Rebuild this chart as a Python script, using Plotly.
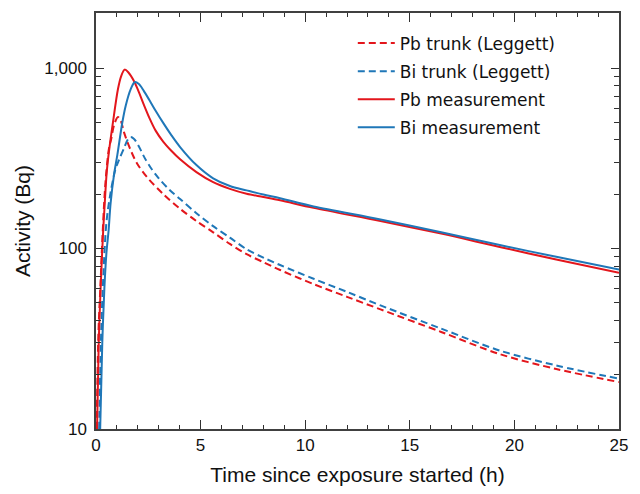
import plotly.graph_objects as go

# ---- data ----
pb_trunk_t = [0.03, 0.12, 0.22, 0.30, 0.45, 0.62, 0.73, 0.86, 1.05, 1.20, 1.34, 1.66, 1.97, 2.42, 3.22, 4.02, 4.8, 5.6, 6.4, 7.2, 8.0, 8.8, 10.4, 12.0, 13.6, 16.5, 19.3, 22.0, 25.0]
pb_trunk_v = [10, 35, 65, 110, 230, 359, 406, 481, 535, 505, 440, 350, 295, 250, 200, 166, 142, 123, 106, 93, 84, 76, 63.5, 54, 46, 34.5, 26, 21.5, 18.2]

bi_trunk_t = [0.15, 0.25, 0.35, 0.50, 0.70, 0.93, 1.10, 1.34, 1.50, 1.65, 1.82, 2.05, 2.30, 2.60, 3.0, 3.5, 4.02, 4.8, 5.6, 6.4, 7.2, 8.0, 8.8, 10.4, 12.0, 13.6, 16.5, 19.3, 22.0, 25.0]
bi_trunk_v = [10, 35, 70, 140, 205, 275, 310, 360, 398, 415, 405, 368, 322, 282, 245, 212, 188, 157, 133, 115, 99, 89, 81, 68, 57.5, 48.4, 36, 27.2, 22.5, 19]

pb_meas_t = [0.05, 0.13, 0.22, 0.33, 0.42, 0.51, 0.62, 0.81, 1.05, 1.20, 1.37, 1.55, 1.82, 2.05, 2.29, 2.55, 2.85, 3.22, 3.6, 4.02, 4.8, 5.6, 6.4, 7.2, 8.0, 8.8, 10.4, 13.6, 16.5, 19.3, 22.0, 25.0]
pb_meas_v = [10, 30, 60, 117, 180, 262, 345, 500, 765, 900, 980, 945, 845, 735, 625, 530, 450, 390, 348, 312, 265, 233, 214, 201, 193, 185, 168, 142, 121, 102, 87, 73.5]

bi_meas_t = [0.20, 0.30, 0.40, 0.50, 0.60, 0.70, 0.86, 1.02, 1.26, 1.42, 1.66, 1.85, 2.05, 2.29, 2.55, 2.85, 3.22, 3.6, 4.02, 4.8, 5.6, 6.4, 7.2, 8.0, 8.8, 10.4, 13.6, 16.5, 19.3, 22.0, 25.0]
bi_meas_v = [10, 30, 60, 95, 125, 179, 256, 330, 501, 619, 764, 835, 815, 745, 665, 580, 495, 425, 365, 290, 245, 222, 210, 199, 190, 171, 145, 123, 104.5, 90, 76.6]

y_tick_vals = [10, 100, 1000]
y_tick_text = ["10", "100", "1,000"]
y_minor_vals = [20, 30, 40, 50, 60, 70, 80, 90, 200, 300, 400, 500, 600, 700, 800, 900, 2000]

RED = "#e3161c"
BLUE = "#1f77b8"
DASH = "7px,4px"
SM = 0.9

fig = go.Figure()
fig.add_trace(go.Scatter(x=pb_trunk_t, y=pb_trunk_v, mode="lines", name="Pb trunk (Leggett)", legendgroup="a",
                         line=dict(color=RED, width=2, dash=DASH, shape="spline", smoothing=SM)))
fig.add_trace(go.Scatter(x=bi_trunk_t, y=bi_trunk_v, mode="lines", name="Bi trunk (Leggett)", legendgroup="b",
                         line=dict(color=BLUE, width=2, dash=DASH, shape="spline", smoothing=SM)))
fig.add_trace(go.Scatter(x=pb_meas_t, y=pb_meas_v, mode="lines", name="Pb measurement", legendgroup="c",
                         line=dict(color=RED, width=2, shape="spline", smoothing=SM)))
fig.add_trace(go.Scatter(x=bi_meas_t, y=bi_meas_v, mode="lines", name="Bi measurement", legendgroup="d",
                         line=dict(color=BLUE, width=2, shape="spline", smoothing=SM)))

axis_common = dict(showline=True, linecolor="#404040", linewidth=1.5, mirror="ticks",
                   ticks="inside", tickcolor="#303030", tickwidth=1.3, showgrid=False, zeroline=False,
                   tickfont=dict(family="Liberation Sans, Arial", size=17, color="#111111"))

fig.update_xaxes(range=[0, 25], dtick=5, tick0=0, ticklen=9,
                 minor=dict(ticks="inside", dtick=1, ticklen=4, tickcolor="#303030", tickwidth=1.2),
                 title=dict(text="Time since exposure started (h)", standoff=13,
                            font=dict(family="Liberation Sans, Arial", size=21, color="#111111")),
                 **axis_common)
fig.update_yaxes(type="log", range=[1, 3.305], tickvals=y_tick_vals, ticktext=y_tick_text, ticklen=8,
                 ticklabelstandoff=4,
                 minor=dict(ticks="inside", tickvals=y_minor_vals, ticklen=5, tickcolor="#303030", tickwidth=1.2),
                 title=dict(text="Activity (Bq)", standoff=8,
                            font=dict(family="Liberation Sans, Arial", size=21, color="#111111")),
                 **axis_common)

fig.update_layout(width=640, height=494, paper_bgcolor="white", plot_bgcolor="white",
                  margin=dict(l=96, r=21, t=11, b=62),
                  legend=dict(x=0.491, y=0.97, xanchor="left", yanchor="top", bgcolor="rgba(0,0,0,0)",
                              font=dict(family="DejaVu Sans, Verdana", size=17, color="#111111"),
                              traceorder="grouped", tracegroupgap=3, itemwidth=37))

fig.write_html("out.html", config={"displayModeBar": False},
               post_script="document.body.style.margin='0px';document.body.style.overflow='hidden';")
